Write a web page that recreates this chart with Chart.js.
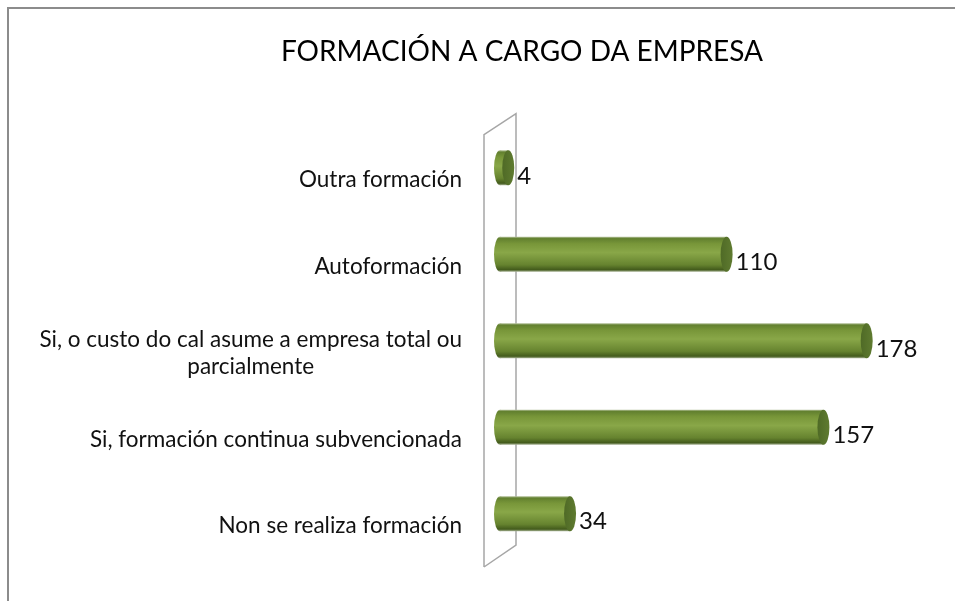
<!DOCTYPE html>
<html>
<head>
<meta charset="utf-8">
<script src="https://cdn.jsdelivr.net/npm/chart.js@4/dist/chart.umd.min.js"></script>
<style>
  html, body { margin: 0; padding: 0; background: #fff; }
  #wrap { position: relative; width: 955px; height: 601px; }
</style>
</head>
<body>
<div id="wrap"><canvas id="myChart"></canvas></div>
<script>
// datos do gráfico
var categories = [
  'Outra formación',
  'Autoformación',
  ['Si, o custo do cal asume a empresa total ou', 'parcialmente'],
  'Si, formación continua subvencionada',
  'Non se realiza formación'
];
var values = [4, 110, 178, 157, 34];
var axisMax = 200;
var chartTitle = 'FORMACIÓN A CARGO DA EMPRESA';

var FONT = 'Lato, "Noto Sans", sans-serif';

// gradiente do cilindro (vertical)
function cylGradient(ctx, top, bottom) {
  var g = ctx.createLinearGradient(0, top, 0, bottom);
  g.addColorStop(0, '#b4c19a');
  g.addColorStop(0.05, '#62802f');
  g.addColorStop(0.2, '#789639');
  g.addColorStop(0.45, '#89a748');
  g.addColorStop(0.8, '#66832f');
  g.addColorStop(0.94, '#435b1c');
  g.addColorStop(1, '#a9b496');
  return g;
}

// marco exterior, parede 3D, tapas dos cilindros e textos
var cylinderPlugin = {
  id: 'cylinders',
  beforeDraw: function(chart) {
    var c = chart.ctx;
    c.save();
    c.strokeStyle = '#8c8c8c';
    c.lineWidth = 2;
    c.beginPath();
    c.moveTo(8, chart.height + 5);
    c.lineTo(8, 8);
    c.lineTo(chart.width + 5, 8);
    c.stroke();
    c.restore();
  },
  beforeDatasetsDraw: function(chart) {
    var c = chart.ctx;
    var a = chart.chartArea;
    var x0 = chart.scales.x.getPixelForValue(0);
    c.save();
    // parede
    c.strokeStyle = '#a6a6a6';
    c.lineWidth = 1.5;
    c.beginPath();
    c.moveTo(x0 - 16, a.bottom + 10);
    c.lineTo(x0 - 16, a.top + 10);
    c.lineTo(x0 + 16, a.top - 11);
    c.lineTo(x0 + 16, a.bottom - 12);
    c.lineTo(x0 - 16, a.bottom + 10);
    c.stroke();
    // tapa esquerda
    chart.getDatasetMeta(0).data.forEach(function(bar) {
      var h = bar.height;
      c.fillStyle = cylGradient(c, bar.y - h / 2, bar.y + h / 2);
      c.beginPath();
      c.ellipse(bar.base, bar.y, 6, h / 2, 0, 0, Math.PI * 2);
      c.fill();
    });
    c.restore();
  },
  afterDatasetsDraw: function(chart) {
    var c = chart.ctx;
    var yScale = chart.scales.y;
    c.save();
    chart.getDatasetMeta(0).data.forEach(function(bar, i) {
      var h = bar.height;
      var g = c.createLinearGradient(bar.x - 6, 0, bar.x + 6, 0);
      g.addColorStop(0, '#4f6a26');
      g.addColorStop(1, '#5f7b30');
      c.fillStyle = g;
      c.beginPath();
      c.ellipse(bar.x, bar.y, 6, h / 2, 0, 0, Math.PI * 2);
      c.fill();
      // valor
      c.fillStyle = '#111';
      c.font = '24px ' + FONT;
      c.textBaseline = 'middle';
      c.textAlign = 'left';
      c.fillText(String(values[i]), bar.x + 9, bar.y + 8);
    });
    // etiquetas das categorías (bloque á dereita, liñas centradas)
    c.font = '22.5px ' + FONT;
    c.fillStyle = '#111';
    c.textBaseline = 'middle';
    var right = yScale.right - 38;
    var lineH = 27;
    categories.forEach(function(lab, i) {
      var cy = yScale.getPixelForTick(i) + 12;
      var lines = Array.isArray(lab) ? lab : [lab];
      var w = 0;
      lines.forEach(function(l) { w = Math.max(w, c.measureText(l).width); });
      var y0 = cy - (lines.length - 1) * lineH / 2;
      c.textAlign = 'center';
      lines.forEach(function(l, k) {
        c.fillText(l, right - w / 2, y0 + k * lineH);
      });
    });
    c.restore();
  }
};

var ctx = document.getElementById('myChart').getContext('2d');

var chart = new Chart(ctx, {
  type: 'bar',
  data: {
    labels: categories,
    datasets: [{
      data: values,
      backgroundColor: function(context) {
        var el = context.element;
        if (!el || !isFinite(el.y) || !isFinite(el.height) || el.height <= 0) return '#7c9a3c';
        return cylGradient(context.chart.ctx, el.y - el.height / 2, el.y + el.height / 2);
      },
      borderWidth: 0,
      barPercentage: 0.405,
      categoryPercentage: 1
    }]
  },
  options: {
    indexAxis: 'y',
    responsive: true,
    maintainAspectRatio: false,
    animation: false,
    layout: { padding: { left: 132, right: 43, top: 0, bottom: 44 } },
    plugins: {
      legend: { display: false },
      tooltip: { enabled: false },
      title: {
        display: true,
        text: chartTitle,
        color: '#000',
        font: { family: FONT, size: 28, weight: 'normal' },
        padding: { top: 35, bottom: 56 }
      }
    },
    scales: {
      x: {
        display: false,
        min: 0,
        max: axisMax
      },
      y: {
        grid: { display: false, drawTicks: false },
        border: { display: false },
        ticks: { display: false },
        afterFit: function(scale) { scale.width = 368; }
      }
    }
  },
  plugins: [cylinderPlugin]
});
// segundo pase para que o gradiente use a posición final das barras
chart.update('none');
</script>
</body>
</html>
